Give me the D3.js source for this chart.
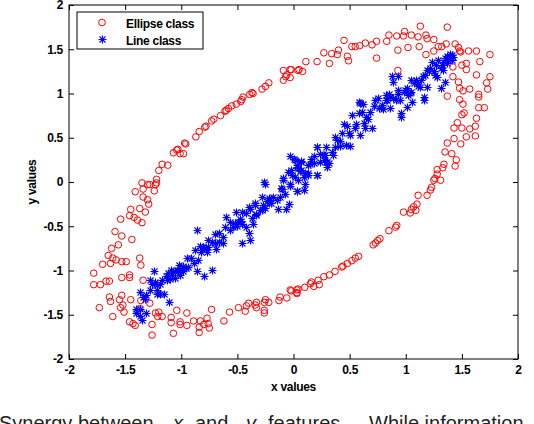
<!DOCTYPE html>
<html>
<head>
<meta charset="utf-8">
<script src="https://cdn.jsdelivr.net/npm/d3@7.9.0/dist/d3.min.js"></script>
<style>
  html, body { margin: 0; padding: 0; background: #fff; overflow: hidden; }
  svg { display: block; }
  .tick text, .lbl { font-family: "Liberation Sans", Arial, sans-serif; font-weight: bold; font-size: 12px; fill: #000; letter-spacing: -0.3px; }
  .caption { font-family: "Liberation Sans", Arial, sans-serif; font-size: 20px; fill: #222; }
</style>
</head>
<body>
<svg id="chart" width="534" height="424"></svg>
<script>
// ellipse class (red circles)
const ellipseX = [
  -1.20,-1.17,-1.12,-1.07,-1.03,-1.01,-0.98,-0.96,-0.87,-0.84,-0.78,-0.71,-0.65,-0.61,-0.58,-0.51,-0.46,-0.45,-0.39,-0.36,-0.28,-0.22,-0.09,-0.06,-0.09,-0.03,0.04,
  -0.60,-0.55,-0.47,-0.37,-0.25,-0.07,-0.79,-0.73,-1.04,-0.97,
  -0.03,-0.02,0.05,0.08,0.11,0.21,0.27,0.32,0.34,0.39,0.40,0.45,0.48,0.49,0.52,0.55,0.59,0.64,0.70,0.74,0.74,0.83,0.85,0.92,0.93,0.93,0.99,0.98,1.02,1.05,1.11,1.13,1.12,1.18,1.19,1.18,1.25,1.25,1.29,1.32,1.37,1.36,1.44,1.47,1.48,1.49,1.56,1.63,1.75,1.66,1.54,1.50,1.42,1.54,1.42,1.63,1.75,1.72,1.73,1.47,1.48,1.51,1.57,1.37,1.48,1.65,1.65,1.51,1.65,1.70,1.52,1.50,1.63,1.46,1.43,1.50,1.57,1.62,1.54,1.62,1.43,1.37,1.49,1.41,1.35,1.45,1.44,1.34,1.33,1.28,1.28,1.26,
  1.25,1.31,1.23,1.22,1.19,1.11,1.10,1.07,1.05,1.09,0.98,1.04,0.92,0.91,0.85,0.77,0.75,0.73,0.71,0.58,0.55,0.52,0.48,0.44,0.43,0.37,0.32,0.27,0.22,0.23,0.16,0.18,0.15,0.10,0.03,0.03,-0.02,
  -1.22,-1.35,-1.30,-1.28,-1.22,-1.23,-1.34,-1.41,-1.24,-1.34,-1.30,-1.29,-1.37,-1.32,-1.45,-1.46,-1.42,-1.39,-1.35,-1.54,-1.59,-1.53,-1.44,-1.56,-1.62,-1.65,-1.61,-1.58,-1.53,-1.49,-1.70,-1.63,-1.37,-1.36,-1.78,-1.53,-1.46,-1.46,-1.34,-1.67,-1.64,-1.78,-1.72,-1.53,-1.64,-1.63,-1.55,-1.45,-1.36,-1.28,-1.52,-1.54,-1.51,-1.37,-1.73,-1.61,-1.46,-1.43,-1.41,-1.26,-1.26,-1.23,-1.20,-1.21,-1.17,-1.09,-1.09,-1.07,-1.04,-1.01,-1.01,-0.95,-0.95,-0.89,-0.84,-0.84,-0.83,-0.77,-0.76,-0.75,-0.80,-0.73,-0.62,-0.57,-0.49,-0.43,-0.42,-0.40,-0.34,-0.33,-0.33,-0.26,-0.26,-0.26,-0.25,-0.22,-0.13,-0.12,-0.06,-0.03,0.03,0.04
];
const ellipseY = [
  0.13,0.20,0.19,0.33,0.37,0.32,0.32,0.43,0.51,0.57,0.63,0.71,0.75,0.80,0.83,0.88,0.93,0.96,0.99,1.00,1.05,1.12,1.26,1.21,1.15,1.27,1.26,
  0.81,0.86,0.91,1.01,1.08,1.19,0.62,0.69,0.36,0.44,
  1.18,1.27,1.27,1.25,1.36,1.36,1.46,1.34,1.45,1.44,1.49,1.60,1.42,1.37,1.53,1.53,1.54,1.57,1.55,1.59,1.40,1.59,1.66,1.65,1.49,1.26,1.70,1.65,1.52,1.66,1.64,1.76,1.53,1.66,1.62,1.44,1.61,1.48,1.53,1.53,1.75,1.56,1.56,1.52,1.48,1.47,1.48,1.48,1.44,1.36,1.34,1.32,1.30,1.27,1.19,1.21,1.19,1.12,1.05,1.13,1.06,1.03,1.05,0.97,0.93,0.99,0.96,0.88,0.84,0.84,0.78,0.76,0.72,0.67,0.61,0.61,0.60,0.63,0.51,0.52,0.49,0.44,0.43,0.32,0.34,0.25,0.18,0.20,0.16,0.14,0.09,0.04,
  0.02,0.02,-0.06,-0.09,-0.15,-0.15,-0.25,-0.28,-0.31,-0.32,-0.34,-0.35,-0.49,-0.51,-0.55,-0.64,-0.66,-0.69,-0.71,-0.84,-0.86,-0.89,-0.92,-0.95,-0.96,-1.01,-1.05,-1.07,-1.11,-1.16,-1.13,-1.18,-1.15,-1.19,-1.22,-1.26,-1.23,
  0.03,-0.01,-0.03,-0.03,-0.01,-0.03,-0.08,-0.11,-0.10,-0.17,-0.20,-0.25,-0.30,-0.34,-0.31,-0.38,-0.40,-0.43,-0.46,-0.42,-0.56,-0.61,-0.65,-0.71,-0.75,-0.83,-0.86,-0.88,-0.90,-0.90,-0.93,-0.92,-0.86,-0.94,-1.03,-1.08,-1.05,-1.08,-1.11,-1.12,-1.12,-1.16,-1.16,-1.28,-1.30,-1.35,-1.33,-1.33,-1.34,-1.37,-1.39,-1.42,-1.47,-1.43,-1.42,-1.52,-1.58,-1.60,-1.62,-1.73,-1.61,-1.48,-1.47,-1.52,-1.52,-1.59,-1.53,-1.71,-1.45,-1.58,-1.61,-1.62,-1.48,-1.57,-1.64,-1.70,-1.57,-1.54,-1.60,-1.65,-1.61,-1.44,-1.57,-1.47,-1.42,-1.46,-1.40,-1.37,-1.39,-1.36,-1.42,-1.48,-1.45,-1.36,-1.33,-1.36,-1.34,-1.30,-1.31,-1.22,-1.25,-1.21
];

// line class (blue stars)
const lineX = [
  -0.25,-0.26,-0.09,-0.03,0.03,-0.11,-0.18,-0.22,-0.28,-0.12,-0.15,-0.04,-0.07,-0.14,-0.22,-0.25,-0.30,-0.33,-0.34,-0.40,-0.42,-0.46,-0.51,-0.48,-0.49,-0.46,-0.60,-0.57,-0.61,-0.57,-0.54,-0.42,-0.40,-0.39,-0.46,-0.36,-0.70,-0.66,-0.63,-0.66,-0.63,-0.76,-0.73,-0.70,-0.69,-0.76,-0.80,-0.82,-0.77,-0.88,-0.86,-0.73,-0.80,-0.85,-0.91,-0.89,-0.95,-0.94,-0.98,-0.98,-1.00,-1.03,-1.01,-1.06,-1.06,-1.08,-1.12,-1.10,-1.13,-1.17,-1.19,-1.23,-1.28,-1.24,-1.26,-1.22,-1.15,-1.19,-1.22,-1.22,-1.28,-1.31,-1.34,-1.32,-1.37,-1.37,-1.40,-1.40,-1.37,-1.35,-1.31,-1.11,-0.86,
  -0.52,-0.50,-0.47,-0.81,-0.78,-0.83,-1.04,-0.96,-1.02,-1.14,-1.09,
  0.21,0.29,0.27,0.18,0.24,0.29,0.00,0.07,0.13,0.03,0.07,-0.05,0.13,0.21,0.01,-0.09,0.04,0.10,-0.03,-0.10,0.03,0.09,-0.08,-0.21,-0.24,-0.34,-0.27,-0.20,-0.39,-0.28,-0.37,-0.33,
  -0.03,0.01,-0.02,0.03,0.04,0.06,0.07,0.10,0.13,0.15,0.16,0.18,0.21,0.21,0.24,0.27,0.28,0.30,0.30,0.32,0.34,0.35,0.37,0.37,0.39,0.41,0.41,0.43,0.47,0.50,0.50,0.49,0.45,0.48,0.52,0.55,0.56,0.59,0.63,0.64,0.65,0.66,0.68,0.70,0.58,0.61,0.62,0.59,0.58,0.72,0.73,0.75,0.76,0.79,0.80,0.82,0.82,0.83,0.85,0.86,0.86,0.89,0.91,0.93,0.93,0.95,0.96,0.96,0.98,0.99,1.01,1.02,1.04,1.05,1.06,1.01,0.93,0.88,0.89,1.05,1.07,1.09,1.10,1.11,1.14,1.13,1.16,1.16,1.15,1.19,1.17,1.19,1.21,1.22,1.23,1.25,1.26,1.27,1.28,1.29,1.31,1.31,1.32,1.33,1.34,1.35,1.35,1.37,1.37,1.38,1.39,1.39,1.41,1.41,1.42,
  -0.01,0.09
];
const lineY = [
  -0.02,0.00,0.02,-0.02,-0.10,-0.07,-0.17,-0.18,-0.17,-0.17,-0.20,-0.25,-0.31,-0.31,-0.24,-0.29,-0.32,-0.36,-0.26,-0.28,-0.35,-0.34,-0.34,-0.42,-0.45,-0.47,-0.39,-0.45,-0.51,-0.54,-0.51,-0.51,-0.58,-0.65,-0.69,-0.47,-0.59,-0.58,-0.62,-0.68,-0.69,-0.65,-0.68,-0.69,-0.76,-0.73,-0.75,-0.79,-0.79,-0.77,-0.54,-0.99,-1.06,-0.88,-0.86,-0.92,-0.86,-0.96,-0.95,-1.00,-0.98,-1.01,-1.05,-1.01,-1.09,-1.05,-1.03,-1.10,-1.11,-1.11,-1.15,-1.13,-1.11,-1.01,-1.15,-1.16,-1.26,-1.26,-1.27,-1.22,-1.22,-1.28,-1.30,-1.32,-1.24,-1.43,-1.43,-1.48,-1.51,-1.56,-1.48,-1.36,-1.01,
  -0.46,-0.50,-0.44,-0.74,-0.76,-0.72,-0.99,-0.97,-0.94,-1.06,-0.99,
  0.39,0.39,0.31,0.29,0.23,0.23,0.26,0.24,0.19,0.17,0.14,0.11,0.08,0.08,0.06,0.04,0.02,-0.02,-0.05,-0.08,-0.10,-0.09,-0.13,-0.20,-0.22,-0.24,-0.26,-0.24,-0.30,-0.32,-0.41,-0.37,
  0.29,0.25,0.14,0.19,0.16,0.12,0.23,0.10,0.10,0.20,0.26,0.21,0.08,0.40,0.32,0.25,0.31,0.23,0.17,0.21,0.34,0.31,0.39,0.51,0.48,0.46,0.41,0.55,0.42,0.41,0.53,0.55,0.66,0.63,0.76,0.61,0.66,0.53,0.67,0.61,0.73,0.71,0.79,0.61,0.78,0.79,0.88,0.89,0.90,0.86,0.93,0.95,0.84,0.87,0.83,0.93,0.98,0.93,1.00,0.96,0.84,0.95,0.93,1.04,1.00,0.93,0.78,0.73,1.02,1.04,0.85,0.98,1.01,1.02,0.90,1.06,1.20,1.20,1.13,1.15,1.12,1.15,1.13,1.09,1.15,1.07,0.96,0.93,1.20,1.07,1.21,1.27,1.25,1.29,1.36,1.25,1.21,1.32,1.19,1.38,1.06,1.29,1.32,1.27,1.36,1.13,1.40,1.34,1.42,1.38,1.45,1.41,1.44,1.38,1.41,
  0.08,0.06
];

const xTicks = [-2, -1.5, -1, -0.5, 0, 0.5, 1, 1.5, 2];
const yTicks = [-2, -1.5, -1, -0.5, 0, 0.5, 1, 1.5, 2];
const legendLabels = ['Ellipse class', 'Line class'];

const svg = d3.select('#chart');
const plotLeft = 69, plotRight = 518, plotTop = 5, plotBottom = 359;

const x = d3.scaleLinear().domain([-2, 2]).range([plotLeft, plotRight]);
const y = d3.scaleLinear().domain([-2, 2]).range([plotBottom, plotTop]);
const fmt = d => String(d);

// star marker like matlab '*'
const starPath = 'M-4,0H4M0,-4V4M-3,-3L3,3M-3,3L3,-3';

// red circles first, blue stars on top
svg.append('g').selectAll('circle')
  .data(ellipseX.map((v, i) => [v, ellipseY[i]]))
  .join('circle')
  .attr('cx', d => x(d[0]))
  .attr('cy', d => y(d[1]))
  .attr('r', 3.3)
  .attr('fill', 'none')
  .attr('stroke', '#ff0000')
  .attr('stroke-width', 1);

svg.append('g').selectAll('path')
  .data(lineX.map((v, i) => [v, lineY[i]]))
  .join('path')
  .attr('d', starPath)
  .attr('transform', d => `translate(${Math.round(x(d[0])) + 0.5},${Math.round(y(d[1])) + 0.5})`)
  .attr('fill', 'none')
  .attr('stroke', '#0000ff')
  .attr('stroke-width', 1.1);

// axes, ticks pointing inward on all four sides
const gx = svg.append('g').attr('transform', `translate(0,${plotBottom})`)
  .call(d3.axisBottom(x).tickValues(xTicks).tickFormat(fmt).tickSize(-5).tickPadding(6));
const gxt = svg.append('g').attr('transform', `translate(0,${plotTop})`)
  .call(d3.axisTop(x).tickValues(xTicks).tickFormat('').tickSize(-5));
const gy = svg.append('g').attr('transform', `translate(${plotLeft},0)`)
  .call(d3.axisLeft(y).tickValues(yTicks).tickFormat(fmt).tickSize(-5).tickPadding(6));
const gyr = svg.append('g').attr('transform', `translate(${plotRight},0)`)
  .call(d3.axisRight(y).tickValues(yTicks).tickFormat('').tickSize(-5));

[gx, gxt, gy, gyr].forEach(g => {
  g.select('.domain').remove();
  g.selectAll('.tick line').attr('stroke', '#000');
  g.attr('font-family', null).attr('font-size', null);
});

svg.append('rect')
  .attr('x', plotLeft).attr('y', plotTop)
  .attr('width', plotRight - plotLeft).attr('height', plotBottom - plotTop)
  .attr('fill', 'none').attr('stroke', '#000').attr('stroke-width', 1);

svg.append('text').attr('class', 'lbl')
  .attr('x', (plotLeft + plotRight) / 2).attr('y', 391)
  .attr('text-anchor', 'middle').text('x values');

svg.append('text').attr('class', 'lbl')
  .attr('transform', `translate(36,${(plotTop + plotBottom) / 2}) rotate(-90)`)
  .attr('text-anchor', 'middle').text('y values');

// legend
const lg = svg.append('g');
lg.append('rect')
  .attr('x', 77).attr('y', 12).attr('width', 126).attr('height', 37)
  .attr('fill', '#fff').attr('stroke', '#000').attr('stroke-width', 1);
lg.append('circle').attr('cx', 102).attr('cy', 22.5).attr('r', 3.3)
  .attr('fill', 'none').attr('stroke', '#ff0000');
lg.append('path').attr('d', starPath).attr('transform', 'translate(102.5,39.5)')
  .attr('fill', 'none').attr('stroke', '#0000ff').attr('stroke-width', 1.1);
legendLabels.forEach((t, i) => {
  lg.append('text').attr('class', 'lbl')
    .attr('x', 126).attr('y', 28 + i * 16.5).text(t);
});

// caption line below the figure, cut by the window edge
const cap = svg.append('text').attr('class', 'caption').attr('y', 430);
cap.append('tspan').attr('x', -1).text('Synergy between');
cap.append('tspan').attr('x', 173).attr('font-style', 'italic').text('x');
cap.append('tspan').attr('x', 195).text('and');
cap.append('tspan').attr('x', 246).attr('font-style', 'italic').text('y');
cap.append('tspan').attr('x', 268).text('features.');
cap.append('tspan').attr('x', 369).text('While information');
</script>
</body>
</html>
